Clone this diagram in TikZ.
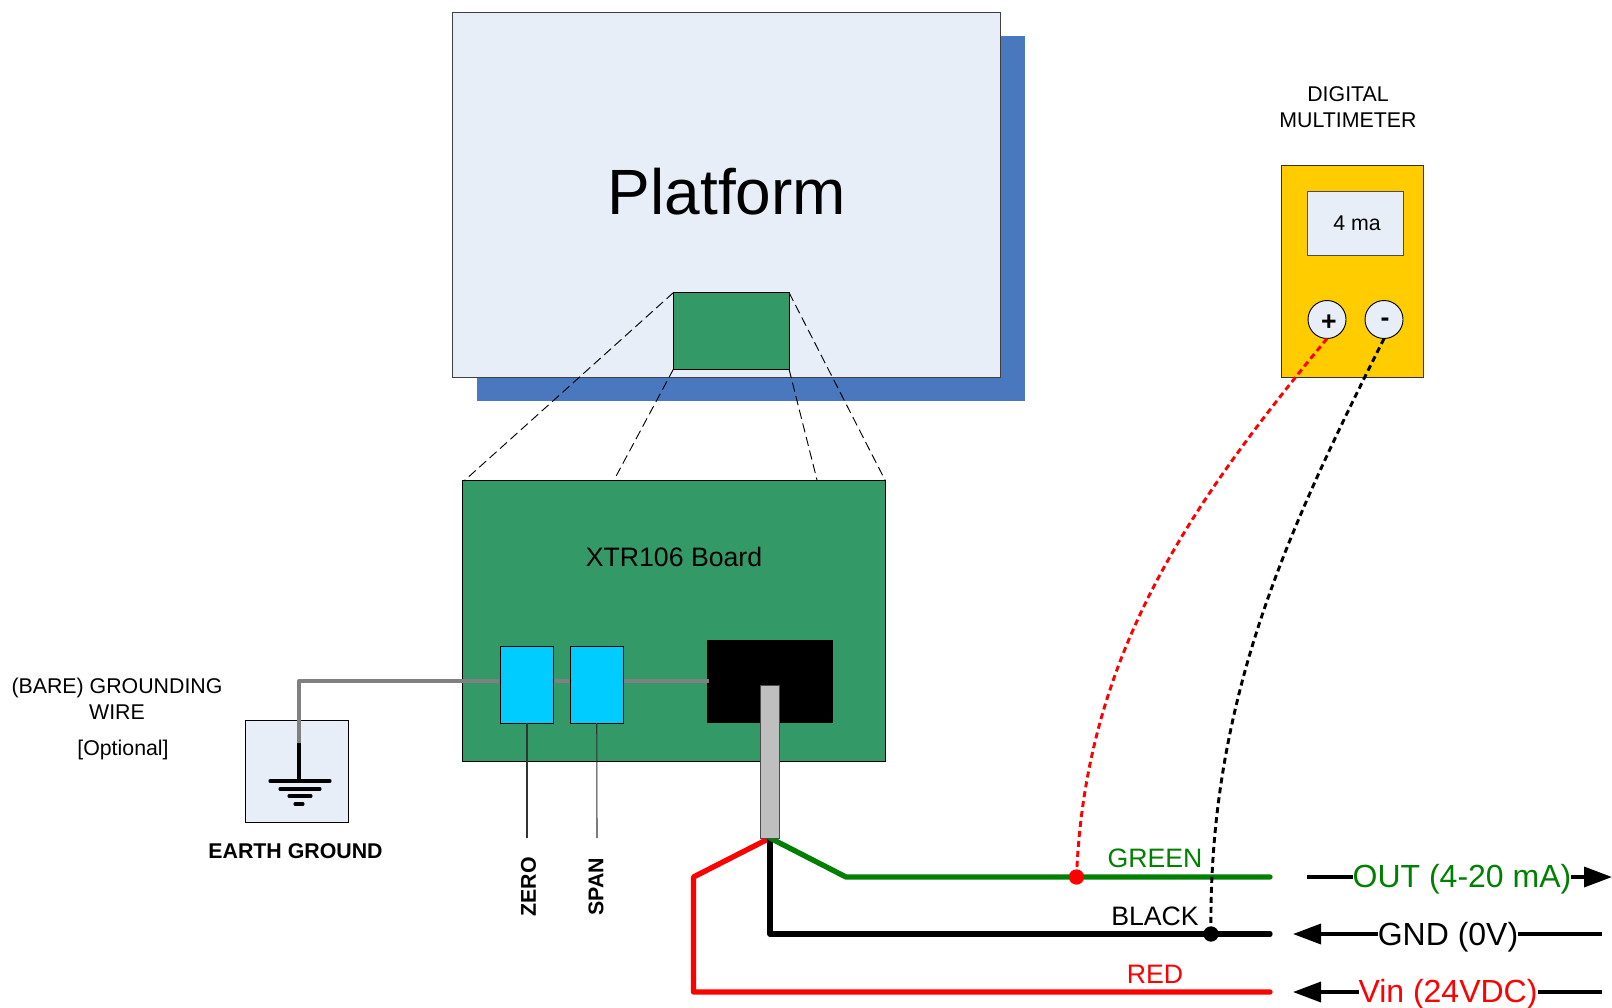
\documentclass[tikz,border=0pt]{standalone}
\usepackage{fontspec}
\setmainfont{Liberation Sans}
\usetikzlibrary{arrows.meta}
\definecolor{paleblue}{HTML}{E8EEF8}
\definecolor{shadowblue}{HTML}{4A78BF}
\definecolor{boardgreen}{HTML}{339966}
\definecolor{chipcyan}{HTML}{00CCFF}
\definecolor{meteryellow}{HTML}{FFCC00}
\definecolor{wiregreen}{HTML}{008000}
\definecolor{wiregray}{HTML}{808080}
\definecolor{bargray}{HTML}{BFBFBF}
\newcommand\bx[6]{\node[boxshape,#6,minimum width={(#4-#2)*0.75pt},minimum height={(#5-#3)*0.75pt}] (#1) at ({(#2+#4)/2},{(#3+#5)/2}) {};}
\newcommand\fs[1]{\fontsize{#1}{#1}\selectfont}
\tikzset{
  boxshape/.style={rectangle,inner sep=0pt,outer sep=0pt,line width=0.7pt},
  txt/.style={inner sep=0pt,outer sep=0pt,align=center,text=black},
  small/.style={txt,font=\fs{16}},
  smallbold/.style={txt,font=\fs{16}\bfseries},
  wirelabel/.style={txt,font=\fs{20}},
  signal/.style={txt,font=\fs{24}},
  zoomline/.style={line width=0.7pt,dash pattern=on 7pt off 3.5pt},
  bigwire/.style={line width=4pt,line cap=round,line join=round},
  probe/.style={line width=2.2pt,dash pattern=on 4.5pt off 3pt},
  sigline/.style={line width=2.6pt},
  sigarrow/.style={line width=2.6pt,-{Triangle[length=21pt,width=15pt]}},
  dot/.style={circle,inner sep=0pt,outer sep=0pt,minimum size=11.5pt},
  gline/.style={line width=2.3pt,line cap=round},
}
\begin{document}
\begin{tikzpicture}[x=0.75pt,y=-0.75pt]
\useasboundingbox (0,0) rectangle (1612,1007);
% platform
\bx{shadow}{477}{36}{1025}{401}{fill=shadowblue}
\bx{platform}{452.5}{12}{1000}{377}{draw=black!75,fill=paleblue}
\node[txt,font=\fs{48}] (platformtext) at (727,192) {Platform};
\bx{smallboard}{673.5}{292.5}{789}{369}{draw=black,fill=boardgreen}
% board
\bx{board}{462}{480}{885}{761}{draw=black,fill=boardgreen}
\node[txt,font=\fs{20}] (boardtext) at (674,557) {XTR106 Board};
% zoom lines
\coordinate (zl1) at (464,481);
\coordinate (zl2) at (614,480);
\coordinate (zl3) at (817,480);
\draw[zoomline] (smallboard.north west) -- (zl1);
\draw[zoomline] (smallboard.south west) -- (zl2);
\draw[zoomline] (smallboard.south east) -- (zl3);
\draw[zoomline] (smallboard.north east) -- (board.north east);
% chip and parts
\bx{chip}{707}{639.5}{833}{723}{fill=black}
\bx{ebox}{245.5}{720}{348}{822}{draw=black,fill=paleblue}
\coordinate (bend) at (299,681);
\coordinate (stemtop) at (299,743);
\coordinate (g1) at (299,781);
\coordinate (chipw) at (709,681);
\draw[line width=3pt,wiregray,line join=round] (chipw) -- (bend) -- (stemtop);
\draw[line width=3pt] (stemtop) -- (g1);
\coordinate (g1a) at (270,781); \coordinate (g1b) at (330,781);
\coordinate (g2a) at (280,789); \coordinate (g2b) at (320,789);
\coordinate (g3a) at (289,796); \coordinate (g3b) at (311,796);
\coordinate (g4a) at (295,804); \coordinate (g4b) at (303,804);
\draw[gline] (g1a) -- (g1b);
\draw[gline] (g2a) -- (g2b);
\draw[gline] (g3a) -- (g3b);
\draw[gline] (g4a) -- (g4b);
\bx{zero}{500.5}{646}{553.5}{723}{draw=black,fill=chipcyan}
\bx{span}{570.5}{646}{623}{723}{draw=black,fill=chipcyan}
\coordinate (zeroend) at (527,838);
\coordinate (spanend) at (597,838);
\draw[line width=0.8pt,black!80] (zero.south) -- (zeroend);
\draw[line width=0.8pt,black!80] (span.south) -- (spanend);
\node[smallbold,rotate=90] (zerotext) at (528.5,887) {ZERO};
\node[smallbold,rotate=90] (spantext) at (596,887) {SPAN};
% labels left
\node[small] (baretext) at (117,688) {(BARE) GROUNDING};
\node[small] (wiretext) at (117,712) {WIRE};
\node[small] (opttext) at (123,750) {[Optional]};
\node[smallbold] (earthtext) at (295.5,851) {EARTH GROUND};
% wires
\coordinate (hub) at (770,838);
\coordinate (gk) at (846,877);
\coordinate (ge) at (1270,877);
\coordinate (bk) at (770,934);
\coordinate (be) at (1270,934);
\coordinate (r1) at (693.5,877);
\coordinate (r2) at (693.5,992);
\coordinate (re) at (1270,992);
\draw[bigwire,red] (hub) -- (r1) -- (r2) -- (re);
\draw[bigwire,black] (hub) -- (bk) -- (be);
\draw[bigwire,wiregreen] (hub) -- (gk) -- (ge);
\bx{bar}{760.5}{685}{779}{838}{draw=black!70,fill=bargray}
\node[wirelabel,text=wiregreen] (greentext) at (1155,858) {GREEN};
\node[wirelabel] (blacktext) at (1155,916) {BLACK};
\node[wirelabel,text=red] (redtext) at (1155,974) {RED};
% multimeter
\node[small] (dmmtext) at (1348,107.5) {DIGITAL\\[3.5pt]MULTIMETER};
\bx{meter}{1281.5}{165.5}{1423}{377}{draw=black!80,fill=meteryellow}
\bx{display}{1307.5}{191.5}{1403}{255}{draw=black!70,fill=paleblue}
\node[txt,font=\fs{16}] (matext) at (1357,223) {4 ma};
\node[circle,inner sep=0pt,outer sep=0pt,minimum size=28.5pt,draw=black,line width=0.7pt,fill=paleblue] (plus) at (1327,319.5) {};
\node[circle,inner sep=0pt,outer sep=0pt,minimum size=28.5pt,draw=black,line width=0.7pt,fill=paleblue] (minus) at (1384,319.5) {};
\node[txt,font=\fs{20}\bfseries] (plustext) at (1329,323) {+};
\node[txt,font=\fs{20}\bfseries] (minustext) at (1385,322) {-};
% probes
\node[dot,fill=red] (reddot) at (1076.5,877) {};
\node[dot,fill=black] (blackdot) at (1211,934) {};
\draw[probe,red] (plus.south) .. controls (1190,505) and (1085,655) .. (reddot.center);
\draw[probe,black] (minus.south) .. controls (1288,530) and (1208,700) .. (blackdot.center);
% signals
\node[signal,text=wiregreen] (outtext) at (1462,879) {OUT (4-20 mA)};
\node[signal] (gndtext) at (1448,937) {GND (0V)};
\node[signal,text=red] (vintext) at (1448,994) {Vin (24VDC)};
\coordinate (o1) at (1307,877); \coordinate (o2) at (1612,877);
\coordinate (n1) at (1602,934); \coordinate (n2) at (1293,934);
\coordinate (v1) at (1602,992); \coordinate (v2) at (1293,992);
\coordinate (oa) at (outtext.west |- o1); \coordinate (ob) at (outtext.east |- o1);
\coordinate (na) at (gndtext.east |- n1); \coordinate (nb) at (gndtext.west |- n1);
\coordinate (va) at (vintext.east |- v1); \coordinate (vb) at (vintext.west |- v1);
\draw[sigline] (o1) -- (oa);
\draw[sigarrow] (ob) -- (o2);
\draw[sigline] (n1) -- (na);
\draw[sigarrow] (nb) -- (n2);
\draw[sigline] (v1) -- (va);
\draw[sigarrow] (vb) -- (v2);
\end{tikzpicture}
\end{document}
